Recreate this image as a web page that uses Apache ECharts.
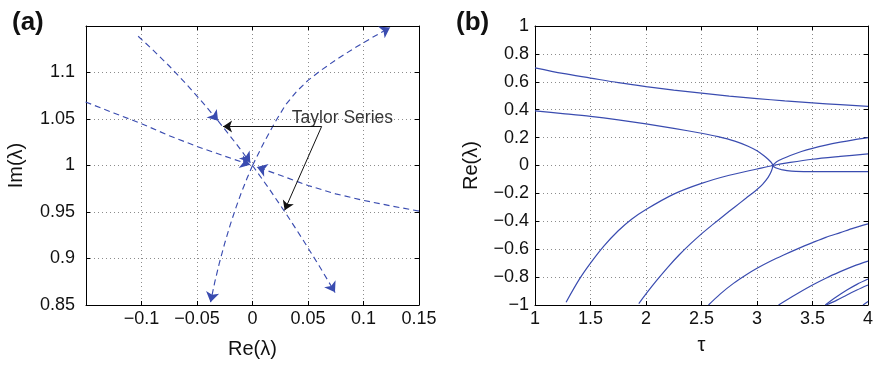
<!DOCTYPE html>
<html>
<head>
<meta charset="utf-8">
<script src="https://cdn.jsdelivr.net/npm/echarts@6/dist/echarts.min.js"></script>
<style>
  html, body { margin: 0; padding: 0; background: #fff; }
  #chart { width: 880px; height: 365px; }
</style>
</head>
<body>
<div id="chart"></div>
<script>
// ---------- Panel (a): root loci in the complex plane ----------
const aXTicks = [-0.1, -0.05, 0, 0.05, 0.1, 0.15];
const aYTicks = [0.85, 0.9, 0.95, 1, 1.05, 1.1];

// branch running from upper left to lower right, split where arrowheads sit
const locusA1 = [[-0.103, 1.139], [-0.09, 1.1246], [-0.075, 1.107], [-0.06, 1.088], [-0.045, 1.0679], [-0.031, 1.048]];
const locusA2 = [[-0.031, 1.048], [-0.015, 1.0239], [-0.002, 1.0031]];
const locusA3 = [[0, 1], [0.015, 0.9749], [0.03, 0.9486], [0.045, 0.921], [0.06, 0.8922], [0.0743, 0.8636]];
// branch running from the bottom to the upper right
const locusB1 = [[0, 1], [-0.005, 0.986], [-0.01, 0.971], [-0.015, 0.9545], [-0.02, 0.9365], [-0.025, 0.9165], [-0.03, 0.8945], [-0.034, 0.8745], [-0.0378, 0.853]];
const locusB2 = [[0, 1], [0.01, 1.024], [0.02, 1.046], [0.03, 1.0655], [0.04, 1.08], [0.05, 1.0915], [0.0607, 1.1015], [0.075, 1.1135], [0.0908, 1.1255], [0.107, 1.137], [0.1239, 1.1485]];
// shallow branch crossing the plot from left to right
const locusC1 = [[-0.1504, 1.0683], [-0.125, 1.0565], [-0.1, 1.045], [-0.075, 1.032], [-0.05, 1.0205], [-0.025, 1.01], [-0.002, 1.0007]];
const locusC2 = [[0.15, 0.951], [0.125, 0.9565], [0.1, 0.9625], [0.075, 0.9695], [0.05, 0.9785], [0.025, 0.9895], [0.004, 0.9983]];

// annotation pointers
const noteText = 'Taylor Series';
const noteAnchor = [0.035, 1.051];
const pointer1 = [[0.0623, 1.042], [-0.0265, 1.042]];
const pointer2 = [[0.0623, 1.042], [0.029, 0.952]];

// ---------- Panel (b): real part of the roots versus tau ----------
const bXTicks = [1, 1.5, 2, 2.5, 3, 3.5, 4];
const bYTicks = [-1, -0.8, -0.6, -0.4, -0.2, 0, 0.2, 0.4, 0.6, 0.8, 1];

const root1 = [[1, 0.70], [1.25, 0.66], [1.5, 0.627], [1.75, 0.594], [2, 0.566], [2.25, 0.541], [2.5, 0.519], [2.75, 0.498], [3, 0.48], [3.25, 0.463], [3.5, 0.449], [3.75, 0.436], [4, 0.424]];
const root2 = [[1, 0.391], [1.25, 0.372], [1.5, 0.352], [1.75, 0.327], [2, 0.298], [2.25, 0.266], [2.5, 0.231], [2.65, 0.207], [2.8, 0.175], [2.92, 0.138], [3.0, 0.105], [3.06, 0.072], [3.1, 0.045], [3.13, 0.02], [3.142, 0.0],
  [3.13, -0.04], [3.1, -0.085], [3.05, -0.135], [3.0, -0.172], [2.9, -0.235], [2.8, -0.297], [2.7, -0.36], [2.6, -0.424], [2.5, -0.49], [2.4, -0.562], [2.3, -0.64], [2.2, -0.726], [2.1, -0.82], [2.0, -0.92], [1.935, -0.99]];
const root3 = [[1.28, -0.98], [1.4, -0.815], [1.5, -0.70], [1.62, -0.578], [1.75, -0.468], [1.87, -0.385], [2, -0.315], [2.25, -0.205], [2.5, -0.128], [2.75, -0.07], [3, -0.025], [3.142, 0.0], [3.3, 0.022], [3.5, 0.045], [3.75, 0.065], [4, 0.083]];
const root4 = [[3.142, 0.0], [3.16, 0.015], [3.18, 0.028], [3.23, 0.048], [3.3, 0.072], [3.4, 0.1], [3.5, 0.123], [3.62, 0.146], [3.75, 0.167], [3.87, 0.184], [4, 0.2]];
const root5 = [[3.142, 0.0], [3.155, -0.01], [3.18, -0.02], [3.22, -0.03], [3.27, -0.037], [3.35, -0.042], [3.5, -0.044], [3.75, -0.044], [4, -0.044]];
const root6 = [[2.563, -1], [2.67, -0.92], [2.788, -0.845], [2.9, -0.785], [3, -0.737], [3.12, -0.687], [3.24, -0.642], [3.37, -0.596], [3.5, -0.553], [3.62, -0.515], [3.75, -0.481], [3.87, -0.449], [4, -0.419]];
const root7 = [[3.194, -1], [3.35, -0.925], [3.5, -0.857], [3.62, -0.808], [3.75, -0.761], [3.87, -0.721], [4, -0.685]];
const root8 = [[3.615, -1], [3.71, -0.945], [3.81, -0.893], [3.9, -0.852], [4, -0.814]];
const root9 = [[3.625, -1], [3.72, -0.965], [3.81, -0.928], [3.9, -0.893], [4, -0.857]];
const root10 = [[3.955, -1], [4, -0.975]];

// ---------- styling ----------
const FONT = 'Liberation Sans, Arial, Helvetica, sans-serif';
const BLUE = '#3a4cb0';
const INK = '#111';

function fmt(v) {
  const n = parseFloat(Number(v).toFixed(4));
  return String(n).replace('-', '\u2212');
}

function labelFor(ticks) {
  return function (v) {
    return ticks.some(t => Math.abs(t - v) < 1e-9) ? fmt(v) : '';
  };
}

function axis(opts) {
  const mirror = opts.mirror;
  return {
    type: 'value',
    gridIndex: opts.grid,
    position: opts.position,
    min: opts.min, max: opts.max, interval: opts.interval,
    name: mirror ? '' : opts.name,
    nameLocation: 'middle',
    nameGap: opts.nameGap,
    nameTextStyle: { fontFamily: FONT, fontSize: 20, color: INK },
    axisLine: { show: true, onZero: false, lineStyle: { color: '#000', width: 1 } },
    axisTick: { show: true, inside: true, length: 4, lineStyle: { color: '#000', width: 1 } },
    axisLabel: mirror ? { show: false } : {
      show: true, margin: opts.margin, fontFamily: FONT, fontSize: 18, color: INK,
      formatter: labelFor(opts.ticks)
    },
    splitLine: mirror ? { show: false } : { show: true, lineStyle: { color: '#8c8c8c', width: 1, type: [1, 3] } }
  };
}

const xAxes = [
  axis({ grid: 0, position: 'bottom', min: -0.15, max: 0.15, interval: 0.05, name: 'Re(\u03bb)', nameGap: 34, margin: 5, ticks: aXTicks }),
  axis({ grid: 0, position: 'top', min: -0.15, max: 0.15, interval: 0.05, mirror: true }),
  axis({ grid: 1, position: 'bottom', min: 1, max: 4, interval: 0.5, name: '\u03c4', nameGap: 30, margin: 5, ticks: bXTicks }),
  axis({ grid: 1, position: 'top', min: 1, max: 4, interval: 0.5, mirror: true })
];
const yAxes = [
  axis({ grid: 0, position: 'left', min: 0.85, max: 1.15, interval: 0.05, name: 'Im(\u03bb)', nameGap: 60, margin: 11, ticks: aYTicks }),
  axis({ grid: 0, position: 'right', min: 0.85, max: 1.15, interval: 0.05, mirror: true }),
  axis({ grid: 1, position: 'left', min: -1, max: 1, interval: 0.2, name: 'Re(\u03bb)', nameGap: 54, margin: 6, ticks: bYTicks }),
  axis({ grid: 1, position: 'right', min: -1, max: 1, interval: 0.2, mirror: true })
];

// dashed locus drawn as a polyline
function dashedPath(coordsList) {
  return {
    type: 'lines', coordinateSystem: 'cartesian2d', xAxisIndex: 0, yAxisIndex: 0,
    polyline: true, silent: true,
    lineStyle: { color: BLUE, width: 1.15, type: [6, 4], opacity: 1 },
    data: coordsList.map(c => ({ coords: c }))
  };
}

// arrowheads at the end of each locus piece: a tiny segment along the last step
function arrowHeads(coordsList) {
  return {
    type: 'lines', coordinateSystem: 'cartesian2d', xAxisIndex: 0, yAxisIndex: 0,
    polyline: false, silent: true, z: 4,
    symbol: ['none', 'arrow'], symbolSize: 10,
    lineStyle: { color: BLUE, width: 1, opacity: 1 },
    data: coordsList.map(c => {
      const end = c[c.length - 1], prev = c[c.length - 2];
      const from = [end[0] + (prev[0] - end[0]) * 0.02, end[1] + (prev[1] - end[1]) * 0.02];
      return { coords: [from, end] };
    })
  };
}

function pointer(coords) {
  return {
    type: 'lines', coordinateSystem: 'cartesian2d', xAxisIndex: 0, yAxisIndex: 0,
    polyline: false, silent: true, z: 5,
    symbol: ['none', 'arrow'], symbolSize: 9,
    lineStyle: { color: '#111', width: 1, type: 'solid', opacity: 1 },
    data: [{ coords: coords }]
  };
}

function rootCurve(data) {
  return {
    type: 'line', xAxisIndex: 2, yAxisIndex: 2, data: data,
    showSymbol: false, smooth: 0.3, silent: true,
    lineStyle: { color: BLUE, width: 1.2 }
  };
}

const lociPieces = [locusA1, locusA2, locusA3, locusB1, locusB2, locusC1, locusC2];
const arrowed = [locusA1, locusA2, locusA3, locusB1, locusB2, locusC1, locusC2];

const option = {
  animation: false,
  backgroundColor: '#fff',
  title: [
    { text: '(a)', left: 7, top: 5, textStyle: { fontFamily: FONT, fontSize: 26, fontWeight: 'bold', color: INK } },
    { text: '(b)', left: 451, top: 5, textStyle: { fontFamily: FONT, fontSize: 26, fontWeight: 'bold', color: INK } }
  ],
  grid: [
    { left: 86, top: 26, width: 333, height: 279 },
    { left: 535, top: 26, width: 333, height: 279 }
  ],
  xAxis: xAxes,
  yAxis: yAxes,
  series: [
    dashedPath(lociPieces),
    arrowHeads(arrowed),
    pointer(pointer1),
    pointer(pointer2),
    {
      type: 'scatter', xAxisIndex: 0, yAxisIndex: 0, silent: true, z: 6,
      symbolSize: 1, itemStyle: { color: 'rgba(0,0,0,0)' },
      data: [[noteAnchor[0], noteAnchor[1], noteText]],
      label: {
        show: true, position: 'right', distance: 0,
        fontFamily: FONT, fontSize: 17.5, color: '#000',
        formatter: p => p.value[2]
      }
    },
    rootCurve(root1), rootCurve(root2), rootCurve(root3), rootCurve(root4), rootCurve(root5),
    rootCurve(root6), rootCurve(root7), rootCurve(root8), rootCurve(root9), rootCurve(root10)
  ]
};

const chart = echarts.init(document.getElementById('chart'), null, { renderer: 'canvas' });
chart.setOption(option);
</script>
</body>
</html>
